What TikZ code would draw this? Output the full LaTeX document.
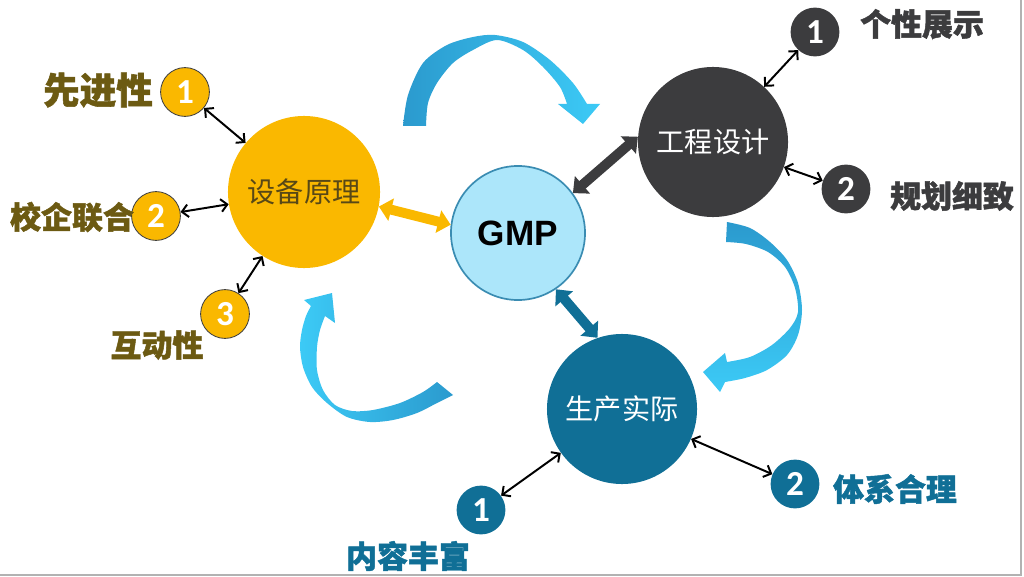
\documentclass[tikz,border=0pt]{standalone}
\usepackage{fontspec}
\setmainfont{Noto Sans CJK SC}
\newfontfamily\cjk{Noto Sans CJK SC}
\newfontfamily\cjkheavy[BoldFeatures={FakeBold=1.5}]{Noto Sans CJK SC}
\newfontfamily\numfont{Carlito}
\newfontfamily\gmpfont{Liberation Sans}
\usetikzlibrary{positioning,arrows.meta}

\definecolor{sbgold}{RGB}{250,184,0}
\definecolor{sbtext}{RGB}{88,72,22}
\definecolor{sblabel}{RGB}{108,90,18}
\definecolor{gcgray}{RGB}{60,60,62}
\definecolor{scteal}{RGB}{16,111,150}
\definecolor{gmpfill}{RGB}{172,230,250}
\definecolor{gmpline}{RGB}{58,140,178}
\definecolor{arrdark}{RGB}{43,154,206}
\definecolor{arrlight}{RGB}{60,202,246}

\begin{document}
\begin{tikzpicture}[x=0.025cm, y=-0.025cm, >={Straight Barb[length=4.5pt,width=9pt]},
    bigcirc/.style={circle, inner sep=0pt, minimum size=3.75cm, font=\cjk\fontsize{20}{22}\selectfont},
    smallcirc/.style={circle, inner sep=0pt, minimum size=1.22cm, text=white, font=\numfont\bfseries\fontsize{25}{26}\selectfont},
    lbl/.style={font=\cjkheavy\bfseries\fontsize{22}{24}\selectfont},
    link/.style={<->, line width=1.4pt, black},
    block/.style={line width=7pt, {Triangle[length=9pt,width=16pt]}-{Triangle[length=9pt,width=16pt]}}]
    \useasboundingbox (0,0) rectangle (1024,577);
    \draw[black!30, line width=1pt] (0,575) -- (1021,575) -- (1021,0);

    % Curved arrows
    \shade[left color=arrdark, right color=arrlight]
        plot[smooth] coordinates {(403,126) (408,95) (423,63) (447,45) (473,37) (495,35) (523,42) (550,60) (573,83) (587,104)}
        -- (600,104) -- (583,124) -- (558,104)
        -- plot[smooth] coordinates {(567,104) (560,87) (543,67) (523,50) (497,40) (473,50) (453,63) (437,83) (428,103) (426,126)}
        -- cycle;
    \shade[top color=arrdark, bottom color=arrlight]
        plot[smooth] coordinates {(727,222) (750,228) (770,242) (787,260) (798,283) (802,310) (798,335) (787,355) (767,370) (745,378) (725,382)}
        -- (720,392) -- (703,372) -- (725,353)
        -- plot[smooth] coordinates {(727,362) (750,357) (772,345) (790,328) (798,312) (795,288) (785,267) (768,252) (746,244) (726,242)}
        -- cycle;
    \shade[left color=arrlight, right color=arrdark]
        plot[smooth] coordinates {(453,395) (437,403) (417,413) (393,420) (370,422) (347,417) (327,403) (312,387) (303,367) (300,347) (302,330) (306,316) (311,306)}
        -- (304,300) -- (332,293) -- (335,323)
        -- plot[smooth] coordinates {(325,316) (320,330) (317,347) (317,370) (323,390) (335,405) (352,411) (373,410) (400,403) (423,392) (437,382)}
        -- cycle;

    % Main circles
    \node[bigcirc, fill=sbgold, text=sbtext, minimum size=3.8cm] (sb) at (304,192) {设备原理};
    \node[circle, inner sep=0pt, minimum size=3.35cm, fill=gmpfill, draw=gmpline, line width=1.2pt,
        font=\gmpfont\bfseries\fontsize{25}{26}\selectfont] (gmp) at (518,233) {GMP};
    \node[bigcirc, fill=gcgray, text=white] (gc) at (713,142) {工程设计};
    \node[bigcirc, fill=scteal, text=white] (sc) at (622,409) {生产实际};

    % Small circles
    \node[smallcirc, fill=sbgold, draw=black!75, line width=0.6pt] (sb1) at (185,92) {1};
    \node[smallcirc, fill=sbgold, draw=black!75, line width=0.6pt] (sb2) at (156,216) {2};
    \node[smallcirc, fill=sbgold, draw=black!75, line width=0.6pt] (sb3) at (225,314) {3};
    \node[smallcirc, fill=gcgray] (gc1) at (815,32) {1};
    \node[smallcirc, fill=gcgray] (gc2) at (846,189) {2};
    \node[smallcirc, fill=scteal] (sc1) at (481,510) {1};
    \node[smallcirc, fill=scteal] (sc2) at (795,484) {2};

    % Labels
    \node[lbl, text=sblabel, font=\cjkheavy\bfseries\fontsize{26}{28}\selectfont] (sbl1) at (98,90) {先进性};
    \node[lbl, text=sblabel] (sbl2) at (72,217) {校企联合};
    \node[lbl, text=sblabel] (sbl3) at (157,345) {互动性};
    \node[lbl, text=gcgray] (gcl1) at (922,24) {个性展示};
    \node[lbl, text=gcgray] (gcl2) at (952,196) {规划细致};
    \node[lbl, text=scteal] (scl1) at (408,556) {内容丰富};
    \node[lbl, text=scteal] (scl2) at (895,489) {体系合理};

    % Connections to GMP
    \draw[block, sbgold] (sb.-11) -- (gmp.173);
    \draw[block, gcgray] (gmp.36) -- (gc.176);
    \draw[block, scteal] (gmp.-56) -- (sc.109);

    % Connections to small circles
    \draw[link] (sb1) -- (sb);
    \draw[link] (sb2) -- (sb);
    \draw[link] (sb3) -- (sb);
    \draw[link] (gc1) -- (gc);
    \draw[link] (gc2) -- (gc);
    \draw[link] (sc1) -- (sc);
    \draw[link] (sc2) -- (sc);
\end{tikzpicture}
\end{document}
